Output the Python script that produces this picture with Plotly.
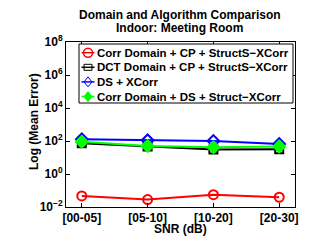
import plotly.graph_objects as go

categories = ["[00-05]", "[05-10]", "[10-20]", "[20-30]"]
corr_cp = [0.047, 0.028, 0.056, 0.039]
dct_cp = [72, 46, 31, 32]
ds_xcorr = [126, 110, 100, 66]
corr_ds = [90, 50, 42, 46]
names = ["Corr Domain + CP + StructS\u2212XCorr",
         "DCT Domain + CP + StructS\u2212XCorr",
         "DS + XCorr",
         "Corr Domain + DS + Struct\u2212XCorr"]
ytickvals = [1e-2, 1, 1e2, 1e4, 1e6, 1e8]
yticktext = ["10<sup>\u22122</sup>", "10<sup>0</sup>", "10<sup>2</sup>",
             "10<sup>4</sup>", "10<sup>6</sup>", "10<sup>8</sup>"]

FONT = "Liberation Sans"
OFF = 8  # page body margin of the browser
W, H = 312 - OFF, 241 - OFF
ML, MR, MT, MB = 66 - OFF, 17, 42 - OFF, 34
PW, PH = W - ML - MR, H - MT - MB


def px(xp):
    return (xp - OFF - ML) / PW


def py(yp):
    return (H - MB - (yp - OFF)) / PH


fig = go.Figure()
styles = [
    dict(color="#ff0000", symbol="circle-open", size=9, shape="circle"),
    dict(color="#000000", symbol="square-open", size=8, shape="square"),
    dict(color="#0000ff", symbol="diamond-open", size=9, shape="diamond"),
    dict(color="#00ff00", symbol="diamond", size=9, shape="diamond-fill"),
]
series = [corr_cp, dct_cp, ds_xcorr, corr_ds]
xi = list(range(len(categories)))
for name, vals, st in zip(names, series, styles):
    fig.add_trace(go.Scatter(
        x=xi, y=vals, name=name, mode="lines+markers", showlegend=False,
        line=dict(color=st["color"], width=2),
        marker=dict(color=st["color"], symbol=st["symbol"], size=st["size"],
                    line=dict(color=st["color"], width=2)),
    ))

shapes = []
annotations = []
# legend box
shapes.append(dict(type="rect", xref="paper", yref="paper",
                   x0=px(79), x1=px(293), y0=py(103), y1=py(44),
                   line=dict(color="black", width=1), fillcolor="white", layer="above"))
row_y = [52.7, 67.3, 81.9, 96.5]
for name, st, ry in zip(names, styles, row_y):
    yc = py(ry)
    shapes.append(dict(type="line", xref="paper", yref="paper",
                       x0=px(81.5), x1=px(94.5), y0=yc, y1=yc,
                       line=dict(color=st["color"], width=1.5), layer="above"))
    common = dict(xref="paper", yref="paper", xsizemode="pixel", ysizemode="pixel",
                  xanchor=px(88), yanchor=yc, layer="above")
    if st["shape"] == "circle":
        shapes.append(dict(type="circle", x0=-4.5, x1=4.5, y0=-4.5, y1=4.5,
                           line=dict(color=st["color"], width=1.5), **common))
    elif st["shape"] == "square":
        shapes.append(dict(type="rect", x0=-4, x1=4, y0=-3, y1=3,
                           line=dict(color=st["color"], width=1), **common))
    else:
        fill = st["color"] if st["shape"] == "diamond-fill" else "rgba(0,0,0,0)"
        shapes.append(dict(type="path", path="M0,5 L4,0 L0,-5 L-4,0 Z",
                           fillcolor=fill,
                           line=dict(color=st["color"], width=1), **common))
    annotations.append(dict(text="<b>" + name + "</b>", xref="paper", yref="paper",
                            x=px(94.5), y=yc, xanchor="left", yanchor="middle",
                            showarrow=False, font=dict(family=FONT, size=11.5, color="black")))

annotations.append(dict(text="<b>Domain and Algorithm Comparison</b>", xref="paper", yref="paper",
                        x=px(179.5), y=py(14.8), xanchor="center", yanchor="middle", showarrow=False,
                        font=dict(family=FONT, size=12, color="black")))
annotations.append(dict(text="<b>Indoor: Meeting Room</b>", xref="paper", yref="paper",
                        x=px(179.5), y=py(28.2), xanchor="center", yanchor="middle", showarrow=False,
                        font=dict(family=FONT, size=12, color="black")))
annotations.append(dict(text="<b>SNR (dB)</b>", xref="paper", yref="paper",
                        x=px(180.5), y=py(229), xanchor="center", yanchor="middle", showarrow=False,
                        font=dict(family=FONT, size=12, color="black")))
annotations.append(dict(text="<b>Log (Mean Error)</b>", xref="paper", yref="paper",
                        x=px(34), y=py(122), xanchor="center", yanchor="middle", showarrow=False,
                        textangle=-90, font=dict(family=FONT, size=12, color="black")))

fig.update_layout(
    width=W, height=H,
    margin=dict(l=ML, r=MR, t=MT, b=MB, autoexpand=False),
    paper_bgcolor="white", plot_bgcolor="white",
    font=dict(family=FONT, size=12, color="black"),
    showlegend=False,
    shapes=shapes, annotations=annotations,
)
fig.update_xaxes(
    tickvals=xi, ticktext=categories, range=[-0.24, 3.24], automargin=False,
    showline=True, linecolor="black", linewidth=1, mirror="ticks",
    ticks="inside", ticklen=4, tickcolor="black", showgrid=False, zeroline=False,
    tickfont=dict(family=FONT, size=12, weight="bold"),
)
fig.update_yaxes(
    type="log", range=[-2, 8], tickvals=ytickvals, ticktext=yticktext, automargin=False,
    showline=True, linecolor="black", linewidth=1, mirror="ticks",
    ticks="inside", ticklen=4, tickcolor="black", showgrid=False, zeroline=False,
    tickfont=dict(family=FONT, size=12, weight="bold"),
)
fig.write_html("out.html")
